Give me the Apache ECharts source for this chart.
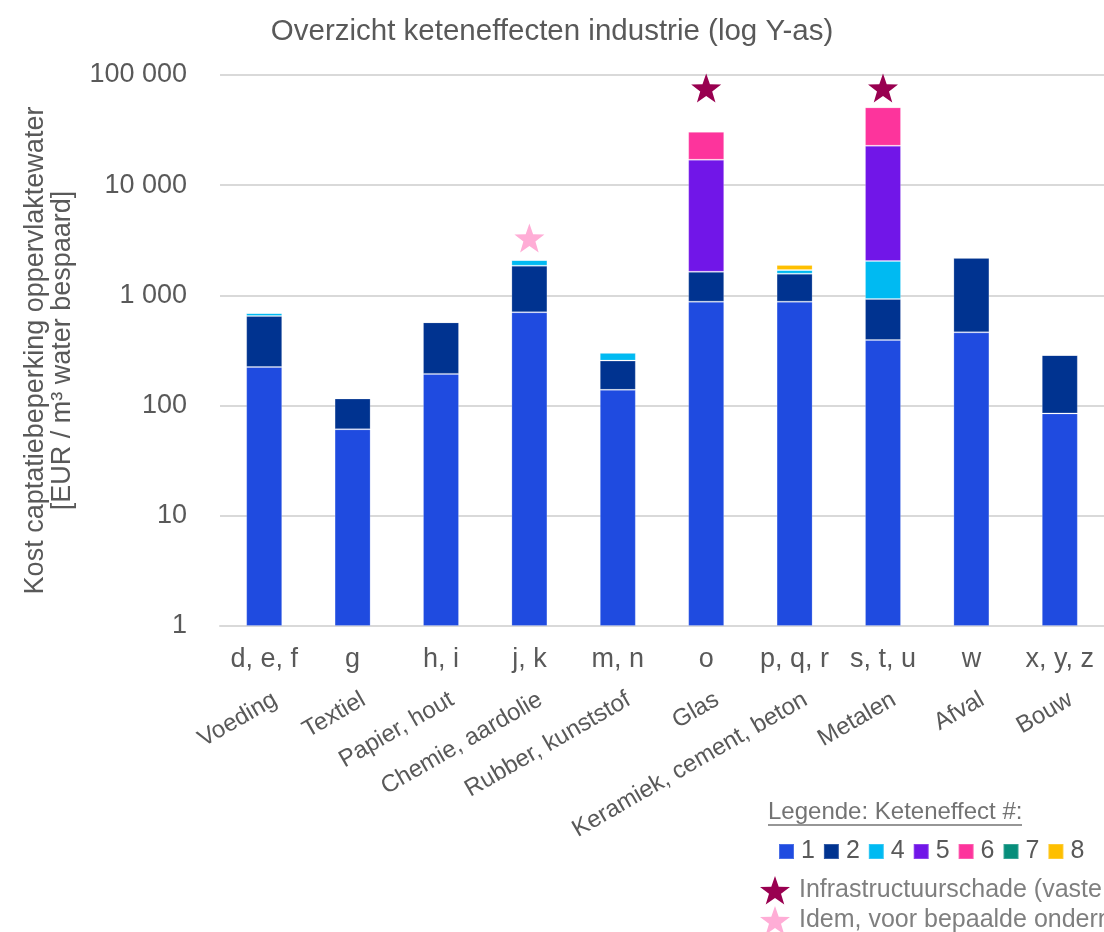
<!DOCTYPE html>
<html>
<head>
<meta charset="utf-8">
<script src="https://cdn.jsdelivr.net/npm/echarts@6/dist/echarts.min.js"></script>
<style>
  html, body { margin: 0; padding: 0; background: #fff; }
  #chart { width: 1104px; height: 932px; }
</style>
</head>
<body>
<div id="chart"></div>
<script>
// codes per sector (first axis row) and sector names (rotated row)
var categories = ['d, e, f', 'g', 'h, i', 'j, k', 'm, n', 'o', 'p, q, r', 's, t, u', 'w', 'x, y, z'];
var sectors = ['Voeding', 'Textiel', 'Papier, hout', 'Chemie, aardolie', 'Rubber, kunststof', 'Glas',
  'Keramiek, cement, beton', 'Metalen', 'Afval', 'Bouw'];

// kost per keteneffect (stacked, EUR / m3)
var effect1 = [224, 61, 194, 703, 139, 877, 877, 394, 462, 85];
var effect2 = [426, 55, 376, 1158, 117, 764, 697, 533, 1736, 203];
var effect4 = [42, 0, 0, 234, 46, 0, 126, 1124, 0, 0];
var effect5 = [0, 0, 0, 0, 0, 15389, 0, 20769, 0, 0];
var effect6 = [0, 0, 0, 0, 0, 13570, 0, 28080, 0, 0];
var effect7 = [0, 0, 0, 0, 0, 0, 0, 0, 0, 0];
var effect8 = [0, 0, 0, 0, 0, 0, 188, 0, 0, 0];

// sterren boven de balken
var infraStar = ['-', '-', '-', '-', '-', 76200, '-', 76200, '-', '-'];
var idemStar = ['-', '-', '-', 3320, '-', '-', '-', '-', '-', '-'];

var yTicks = [1, 10, 100, 1000, 10000, 100000];

var infraName = 'Infrastructuurschade (vaste kosten)';
var idemName = 'Idem, voor bepaalde ondernemingen';

var starPath = 'path://M50,0L61.76,33.82L97.55,34.55L69.02,56.18L79.39,90.45L50,70L20.61,90.45L30.98,56.18L2.45,34.55L38.24,33.82Z';
var font = 'Liberation Sans, Arial, sans-serif';

function fmt(v) {
  return String(v).replace(/\B(?=(\d{3})+(?!\d))/g, ' ');
}

var myChart = echarts.init(document.getElementById('chart'));

function bar(name, data, color) {
  return {
    name: name,
    type: 'bar',
    stack: 'total',
    xAxisIndex: 0,
    yAxisIndex: 0,
    barWidth: 36,
    itemStyle: {
      color: color,
      borderColor: 'rgba(255,255,255,0.2)',
      borderWidth: 1
    },
    data: data
  };
}

function star(name, data, color) {
  return {
    name: name,
    type: 'scatter',
    xAxisIndex: 0,
    yAxisIndex: 0,
    symbol: starPath,
    symbolSize: [30, 29],
    itemStyle: { color: color, opacity: 1 },
    data: data
  };
}

function starLegend(name, top) {
  return {
    data: [name],
    left: 760,
    top: top,
    itemWidth: 30,
    itemHeight: 29,
    padding: 0,
    textStyle: { fontSize: 25, color: '#7f7f7f', padding: [0, 0, 0, 4] }
  };
}

var option = {
  backgroundColor: '#fff',
  animation: false,
  textStyle: { fontFamily: font },
  title: {
    text: 'Overzicht keteneffecten industrie (log Y-as)',
    left: 'center',
    top: 12,
    textStyle: { fontSize: 29.5, fontWeight: 'normal', color: '#595959', fontFamily: font }
  },
  grid: [
    { left: 220, right: 0, top: 75, bottom: 306, containLabel: false, outerBoundsMode: 'none' },
    // same plot, shifted a bit to the right: carries the rotated sector names
    { left: 231, right: -11, top: 75, bottom: 306, containLabel: false, outerBoundsMode: 'none' }
  ],
  legend: [
    {
      data: ['1', '2', '4', '5', '6', '7', '8'],
      left: 778,
      top: 839,
      icon: 'rect',
      itemWidth: 15,
      itemHeight: 15,
      itemGap: 8,
      padding: 0,
      textStyle: { fontSize: 25, color: '#595959', padding: [0, 0, 0, 2] }
    },
    starLegend(infraName, 876),
    starLegend(idemName, 906)
  ],
  xAxis: [
    {
      type: 'category',
      gridIndex: 0,
      data: categories,
      axisLine: { show: true, lineStyle: { color: '#d9d9d9', width: 2 } },
      axisTick: { show: false },
      axisLabel: { fontSize: 27, color: '#595959', margin: 20, interval: 0 }
    },
    {
      type: 'category',
      gridIndex: 1,
      position: 'bottom',
      data: sectors,
      axisLine: { show: false },
      axisTick: { show: false },
      splitLine: { show: false },
      axisLabel: { fontSize: 24, color: '#595959', rotate: 30, margin: 72, interval: 0 }
    }
  ],
  yAxis: [
    {
      type: 'log',
      gridIndex: 0,
      logBase: 10,
      min: yTicks[0],
      max: yTicks[yTicks.length - 1],
      name: 'Kost captatiebeperking oppervlaktewater\n[EUR / m³ water bespaard]',
      nameLocation: 'middle',
      nameGap: 144,
      nameTextStyle: { fontSize: 27, color: '#595959', lineHeight: 27 },
      axisLine: { show: false },
      axisTick: { show: false },
      axisLabel: { fontSize: 27, color: '#595959', margin: 33, formatter: fmt },
      splitLine: { lineStyle: { color: '#d9d9d9', width: 2 } }
    },
    {
      type: 'value',
      gridIndex: 1,
      show: false
    }
  ],
  graphic: [
    {
      type: 'text',
      left: 768,
      top: 800,
      style: { text: 'Legende: Keteneffect #:', font: '24px ' + font, fill: '#737373' }
    },
    {
      type: 'line',
      shape: { x1: 768, y1: 825, x2: 1022, y2: 825 },
      style: { stroke: '#737373', lineWidth: 1.5 }
    }
  ],
  series: [
    bar('1', effect1, '#1F4BE0'),
    bar('2', effect2, '#003390'),
    bar('4', effect4, '#00BAF2'),
    bar('5', effect5, '#7116E8'),
    bar('6', effect6, '#FD349C'),
    bar('7', effect7, '#078E7B'),
    bar('8', effect8, '#FEBF00'),
    star(infraName, infraStar, '#990050'),
    star(idemName, idemStar, '#FFADD6')
  ]
};

myChart.setOption(option);
</script>
</body>
</html>
